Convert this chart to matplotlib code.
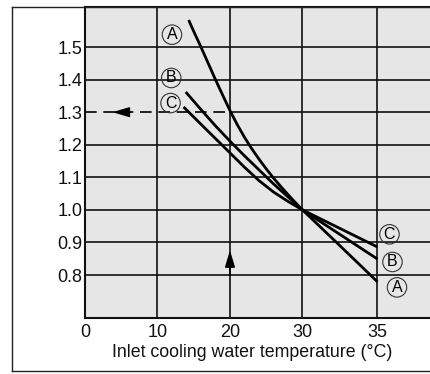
import numpy as np
import matplotlib.pyplot as plt
from matplotlib.lines import Line2D

plt.rcParams['font.family'] = ['Liberation Sans', 'DejaVu Sans']

# curve values
temp_a = [14.3, 15, 16, 17, 18, 19, 20, 21, 22, 23, 24, 25, 26, 27, 28, 29, 30, 32, 35]
fact_a = [1.583, 1.548, 1.500, 1.450, 1.400, 1.352, 1.305, 1.262, 1.223, 1.188,
          1.156, 1.126, 1.098, 1.072, 1.047, 1.023, 1.000, 0.912, 0.779]
temp_b = [13.9, 16, 18, 20, 22, 24, 26, 28, 30, 35]
fact_b = [1.362, 1.308, 1.258, 1.211, 1.166, 1.123, 1.080, 1.040, 1.000, 0.849]
temp_c = [13.6, 16, 18, 20, 22, 24, 26, 28, 30, 35]
fact_c = [1.316, 1.263, 1.219, 1.175, 1.131, 1.090, 1.055, 1.026, 1.000, 0.886]

x_ticks = [0, 10, 20, 30, 35]
y_ticks = [0.8, 0.9, 1.0, 1.1, 1.2, 1.3, 1.4, 1.5]
read_temp = 20
read_fact = 1.3


# axis is stretched above 30 degC
def fwd(x):
    x = np.asarray(x, dtype=float)
    return np.where(x <= 30, x, 30 + 2.07 * (x - 30))


def inv(u):
    u = np.asarray(u, dtype=float)
    return np.where(u <= 30, u, 30 + (u - 30) / 2.07)


fig = plt.figure(figsize=(4.3, 3.74), dpi=100)
ax = fig.add_axes([85 / 430, 1 - 318 / 374, 1 - 85 / 430, 311 / 374])
ax.set_facecolor('#e6e6e6')
ax.set_xscale('function', functions=(fwd, inv))
ax.set_xlim(0, 38.5)
ax.set_ylim(0.668, 1.623)

# grid
for yv in y_ticks:
    if yv == read_fact:
        ax.plot([read_temp, 38.5], [yv, yv], color='#111111', lw=1.2, zorder=1)
    else:
        ax.axhline(yv, color='#111111', lw=1.2, zorder=1)
for xv in x_ticks[1:]:
    ax.axvline(xv, color='#111111', lw=1.2, zorder=1)

# read-off arrows
ax.plot([0, read_temp], [read_fact, read_fact], color='black', lw=1.2,
        dashes=(7, 4), zorder=2)
ax.annotate('', xy=(3.8, read_fact), xytext=(6.2, read_fact),
            arrowprops=dict(arrowstyle='-|>,head_length=1.0,head_width=0.3',
                            color='black', lw=1.2, shrinkA=0, shrinkB=0))
ax.annotate('', xy=(read_temp, 0.876), xytext=(read_temp, 0.80),
            arrowprops=dict(arrowstyle='-|>,head_length=1.0,head_width=0.3',
                            color='black', lw=1.2, shrinkA=0, shrinkB=0))

# curves
for tx, fy in [(temp_a, fact_a), (temp_b, fact_b), (temp_c, fact_c)]:
    ax.plot(tx, fy, color='black', lw=2.0, zorder=3,
            solid_joinstyle='round', solid_capstyle='butt')

circ = dict(boxstyle='circle,pad=0.14', fc='none', ec='#333333', lw=0.8)
labels = [('A', 12.0, 1.538, 36.3, 0.762),
          ('B', 11.9, 1.405, 36.0, 0.840),
          ('C', 11.8, 1.328, 35.8, 0.925)]
for name, xl, yl, xr, yr in labels:
    ax.text(xl, yl, name, fontsize=11.5, ha='center', va='center', bbox=circ, zorder=4)
    ax.text(xr, yr, name, fontsize=11.5, ha='center', va='center', bbox=circ, zorder=4)

ax.set_xticks(x_ticks)
ax.set_xticklabels([str(v) for v in x_ticks])
ax.set_yticks(y_ticks)
ax.set_yticklabels([f'{v:.1f}' for v in y_ticks])
ax.xaxis.set_minor_locator(plt.NullLocator())
ax.tick_params(length=0, labelsize=13, colors='#111111', pad=4)
ax.tick_params(axis='y', pad=2)
ax.set_xlabel('Inlet cooling water temperature (°C)', fontsize=12.8,
              color='#111111')
ax.xaxis.set_label_coords(0.484, -0.082)

for s in ['left', 'bottom', 'top']:
    ax.spines[s].set_linewidth(1.5)
    ax.spines[s].set_color('#111111')
ax.spines['right'].set_visible(False)

# outer frame
fig.add_artist(Line2D([12 / 430, 12 / 430], [1 - 7 / 374, 1 - 371 / 374],
                      color='#222222', lw=1.0))
fig.add_artist(Line2D([12 / 430, 1], [1 - 371 / 374, 1 - 371 / 374],
                      color='#222222', lw=1.0))
fig.add_artist(Line2D([12 / 430, 1], [1 - 7 / 374, 1 - 7 / 374],
                      color='#222222', lw=1.0))

fig.savefig('out.png', dpi=100)
